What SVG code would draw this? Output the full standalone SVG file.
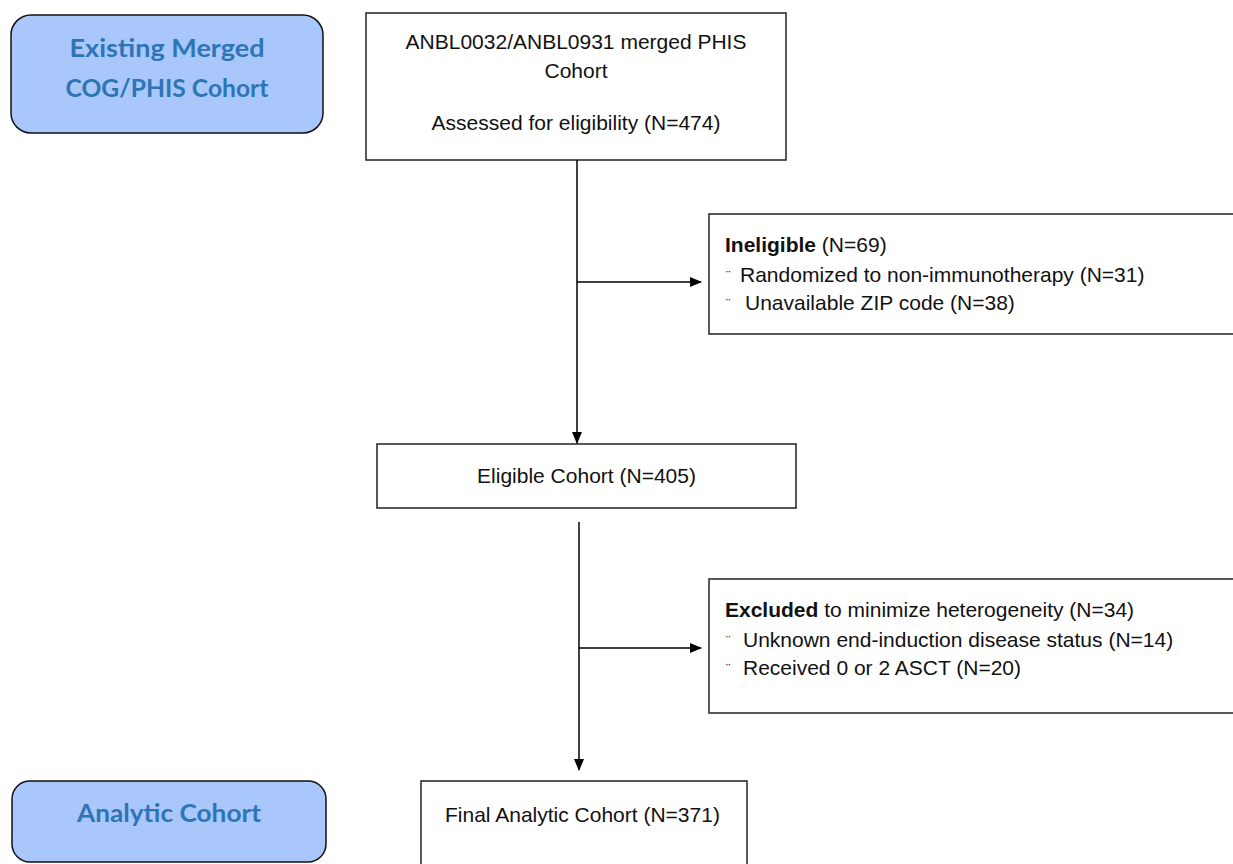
<svg xmlns="http://www.w3.org/2000/svg" width="1233" height="864" viewBox="0 0 1233 864">
<style>
.lbl{fill:#a9c7fb;stroke:#111;stroke-width:1.5}
.lt{font-family:"Lato","Open Sans",sans-serif;font-weight:700;fill:#2e75b6;font-size:25px;text-anchor:middle}
.box{fill:#fff;stroke:#222;stroke-width:1.5}
.t{font-family:"Liberation Sans",Arial,sans-serif;font-size:21px;fill:#111}
.c{text-anchor:middle}
.b{font-weight:700}
.bul{font-family:"Liberation Sans",Arial,sans-serif;font-size:13px;fill:#111}
.ln{stroke:#000;stroke-width:1.5;fill:none}
</style>
<defs>
<marker id="ah" markerWidth="12" markerHeight="10" refX="11" refY="5" orient="auto" markerUnits="userSpaceOnUse">
<path d="M0,0 L12,5 L0,10 Z" fill="#000"/>
</marker>
</defs>
<rect width="1233" height="864" fill="#fff"/>
<g id="label-existing">
<rect class="lbl" x="11" y="15" width="312" height="118" rx="20" ry="20"/>
<text class="lt" x="167" y="57" textLength="195" lengthAdjust="spacingAndGlyphs">Existing Merged</text>
<text class="lt" x="167" y="97" textLength="203" lengthAdjust="spacingAndGlyphs">COG/PHIS Cohort</text>
</g>
<g id="label-analytic">
<rect class="lbl" x="12" y="781" width="314" height="81" rx="18" ry="18"/>
<text class="lt" x="169" y="822" textLength="184" lengthAdjust="spacingAndGlyphs">Analytic Cohort</text>
</g>
<g id="node-assessed">
<rect class="box" x="366" y="13" width="420" height="147"/>
<text class="t c" x="576" y="49">ANBL0032/ANBL0931 merged PHIS</text>
<text class="t c" x="576" y="78">Cohort</text>
<text class="t c" x="576" y="130">Assessed for eligibility (N=474)</text>
</g>
<g id="node-ineligible">
<rect class="box" x="709" y="214" width="540" height="120"/>
<text class="t" x="725" y="252"><tspan class="b">Ineligible</tspan> (N=69)</text>
<text class="bul" x="726" y="280">¨</text>
<text class="t" x="740" y="282">Randomized to non-immunotherapy (N=31)</text>
<text class="bul" x="726" y="308">¨</text>
<text class="t" x="745" y="310">Unavailable ZIP code (N=38)</text>
</g>
<g id="node-eligible">
<rect class="box" x="377" y="444" width="419" height="64"/>
<text class="t c" x="586.5" y="483">Eligible Cohort (N=405)</text>
</g>
<g id="node-excluded">
<rect class="box" x="709" y="579" width="540" height="134"/>
<text class="t" x="725" y="617"><tspan class="b">Excluded</tspan> to minimize heterogeneity (N=34)</text>
<text class="bul" x="726" y="645">¨</text>
<text class="t" x="743" y="647">Unknown end-induction disease status (N=14)</text>
<text class="bul" x="726" y="673">¨</text>
<text class="t" x="743" y="675">Received 0 or 2 ASCT (N=20)</text>
</g>
<g id="node-final">
<rect class="box" x="421" y="781" width="326" height="95"/>
<text class="t" x="445" y="822">Final Analytic Cohort (N=371)</text>
</g>
<g id="connectors">
<line class="ln" x1="577" y1="160" x2="577" y2="443" marker-end="url(#ah)"/>
<line class="ln" x1="577" y1="282" x2="701" y2="282" marker-end="url(#ah)"/>
<line class="ln" x1="579" y1="522" x2="579" y2="770" marker-end="url(#ah)"/>
<line class="ln" x1="579" y1="648" x2="701" y2="648" marker-end="url(#ah)"/>
</g>
</svg>
